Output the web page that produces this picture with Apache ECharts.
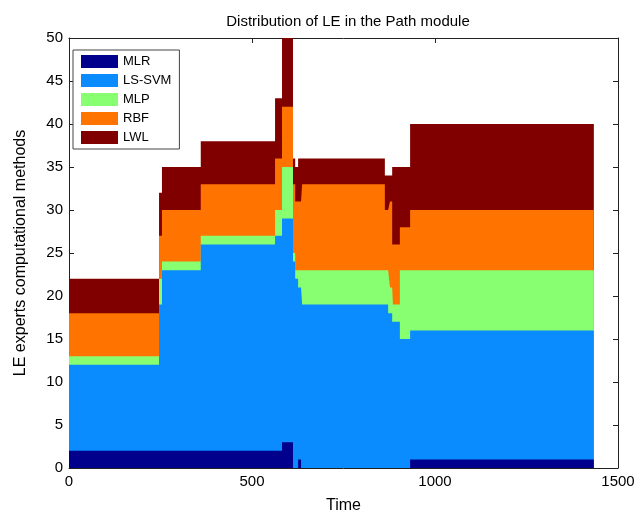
<!DOCTYPE html>
<html>
<head>
<meta charset="utf-8">
<script src="https://cdn.jsdelivr.net/npm/echarts@6/dist/echarts.min.js"></script>
<style>html,body{margin:0;padding:0;background:#fff}#c{width:639px;height:519px}</style>
</head>
<body>
<div id="c"></div>
<script>
// Time breakpoints (minutes); each value holds until the next breakpoint
var times = [0, 246, 254, 360, 563, 582, 612, 618, 626, 634, 637, 863, 872, 877, 883, 885, 904, 932, 1434];
var seriesNames = ['MLR', 'LS-SVM', 'MLP', 'RBF', 'LWL'];
var mlr   = [2, 2, 2, 2, 2, 3, 0, 0, 1, 0, 0, 0, 0, 0, 0, 0, 0, 1, 1];
var lssvm = [10, 17, 21, 24, 25, 26, 24, 22, 20, 21, 19, 19, 18, 18, 17, 17, 15, 15, 15];
var mlp   = [1, 3, 1, 1, 3, 6, 1, 1, 2, 2, 4, 4, 5, 3, 4, 2, 8, 7, 7];
var rbf   = [5, 5, 6, 6, 6, 7, 8, 8, 8, 8, 10, 7, 7, 10, 5, 7, 5, 7, 7];
var lwl   = [4, 5, 5, 5, 7, 11, 3, 4, 5, 5, 3, 4, 4, 3, 9, 9, 7, 10, 10];
var xTicks = [0, 500, 1000, 1500];
var yTicks = [0, 5, 10, 15, 20, 25, 30, 35, 40, 45, 50];

var values = [mlr, lssvm, mlp, rbf, lwl];
var colors = ['#00008c', '#0a8cff', '#88ff70', '#ff7300', '#800000'];
var font = 'Liberation Sans, Arial, Helvetica, sans-serif';

// cumulative (stacked) totals, computed from the arrays above
var cum = [];
values.forEach(function (vals, i) {
  cum.push(vals.map(function (v, k) { return v + (i > 0 ? cum[i - 1][k] : 0); }));
});

var series = [];
for (var i = values.length - 1; i >= 0; i--) {
  series.push({
    name: seriesNames[i],
    type: 'line',
    step: 'end',
    showSymbol: false,
    symbol: 'none',
    silent: true,
    animation: false,
    clip: true,
    color: colors[i],
    z: 2 + (values.length - i),
    lineStyle: { width: 0 },
    areaStyle: { color: colors[i], opacity: 1, origin: 'start' },
    data: times.map(function (t, k) { return [t, cum[i][k]]; })
  });
}

var chart = echarts.init(document.getElementById('c'), null, { renderer: 'canvas' });
chart.setOption({
  animation: false,
  backgroundColor: '#ffffff',
  title: {
    text: 'Distribution of LE in the Path module',
    left: 343, top: 9, textAlign: 'center',
    textStyle: { fontFamily: font, fontSize: 15, fontWeight: 'normal', color: '#000' }
  },
  legend: {
    orient: 'vertical',
    left: 73, top: 50,
    icon: 'rect',
    itemWidth: 37, itemHeight: 13, itemGap: 6,
    padding: [5, 8, 5, 8],
    borderColor: '#444', borderWidth: 1,
    backgroundColor: '#fff',
    textStyle: { fontFamily: font, fontSize: 13, color: '#000' },
    data: seriesNames
  },
  grid: { left: 69, right: 21, top: 38, bottom: 50, containLabel: false },
  xAxis: [{
    type: 'value', min: 0, max: 1500, interval: 500,
    name: 'Time', nameLocation: 'middle', nameGap: 30,
    nameTextStyle: { fontFamily: font, fontSize: 16, color: '#000' },
    axisLine: { show: true, onZero: false, lineStyle: { color: '#222', width: 1 } },
    axisTick: { show: true, inside: true, length: 5, lineStyle: { color: '#222' } },
    axisLabel: { fontFamily: font, fontSize: 15, color: '#000', margin: 6,
      formatter: function (v) { return xTicks.indexOf(v) >= 0 ? String(v) : ''; } },
    splitLine: { show: false }
  }, {
    type: 'value', min: 0, max: 1500, interval: 500, position: 'top',
    axisLine: { show: true, onZero: false, lineStyle: { color: '#222', width: 1 } },
    axisTick: { show: true, inside: true, length: 5, lineStyle: { color: '#222' } },
    axisLabel: { show: false }, splitLine: { show: false }
  }],
  yAxis: [{
    type: 'value', min: 0, max: 50, interval: 5,
    name: 'LE experts computational methods', nameLocation: 'middle', nameGap: 40,
    nameTextStyle: { fontFamily: font, fontSize: 16, color: '#000' },
    axisLine: { show: true, onZero: false, lineStyle: { color: '#222', width: 1 } },
    axisTick: { show: true, inside: true, length: 5, lineStyle: { color: '#222' } },
    axisLabel: { fontFamily: font, fontSize: 15, color: '#000', margin: 6,
      formatter: function (v) { return yTicks.indexOf(v) >= 0 ? String(v) : ''; } },
    splitLine: { show: false }
  }, {
    type: 'value', min: 0, max: 50, interval: 5, position: 'right',
    axisLine: { show: true, onZero: false, lineStyle: { color: '#222', width: 1 } },
    axisTick: { show: true, inside: true, length: 5, lineStyle: { color: '#222' } },
    axisLabel: { show: false }, splitLine: { show: false }
  }],
  series: series
});
</script>
</body>
</html>
